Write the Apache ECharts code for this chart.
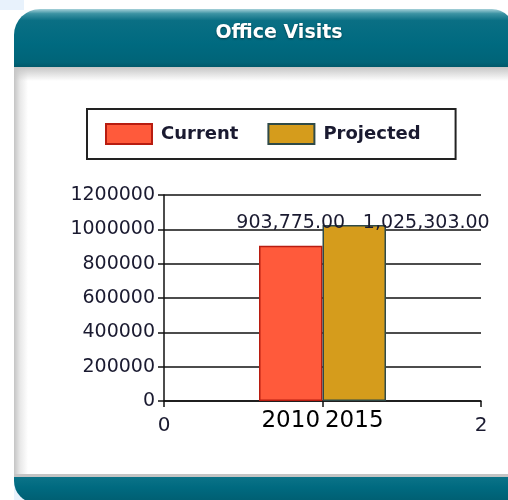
<!DOCTYPE html>
<html>
<head>
<meta charset="utf-8">
<script src="https://cdn.jsdelivr.net/npm/echarts@6/dist/echarts.min.js"></script>
<style>
  html, body { margin: 0; padding: 0; background: #fff; }
  .page { position: relative; width: 508px; height: 500px; overflow: hidden; }
  .corner-tl { position: absolute; left: 0; top: 0; width: 24px; height: 10px; background: #e8f2fc; }
  .corner-bl { position: absolute; left: 14px; top: 478px; width: 60px; height: 22px; background: #e8f2fc; }
  .card { position: absolute; left: 14px; top: 9px; width: 500px; height: 491px; }
  .card-head {
    position: absolute; left: 0; top: 0; width: 100%; height: 58px;
    border-radius: 26px 22px 0 0;
    background: linear-gradient(to bottom, #a6d1d9 0%, #3d93a3 8%, #0a6f84 20%, #006a80 60%, #006478 92%, #00586a 100%);
  }
  .card-body {
    position: absolute; left: 0; top: 58px; width: 100%; height: 407px;
    background: linear-gradient(to right, #c4c4c4 0px, #e8e8e8 6px, #fff 14px);
  }
  .card-body::before {
    content: ''; position: absolute; left: 0; top: 0; right: 0; height: 14px;
    background: linear-gradient(to bottom, #c6c6c6, rgba(255,255,255,0));
  }
  .card-foot {
    position: absolute; left: 0; top: 465px; width: 100%; height: 26px;
    border-top: 3px solid #c4c4c4;
    border-radius: 0 0 0 22px;
    background: linear-gradient(to bottom, #0b7388 0%, #006a80 40%, #005d70 100%);
  }
  #chart { position: absolute; left: 0; top: 0; width: 508px; height: 500px; }
</style>
</head>
<body>
<div class="page">
  <div class="corner-tl"></div>
  <div class="corner-bl"></div>
  <div class="card">
    <div class="card-head"></div>
    <div class="card-body"></div>
    <div class="card-foot"></div>
  </div>
  <div id="chart"></div>
</div>
<script>
// data
var categories = ['2010', '2015']
var seriesNames = ['Current', 'Projected']
var currentValues = [903775, '-']
var projectedValues = ['-', 1025303]
var xTickLabels = ['0', '', '2']

var font = 'DejaVu Sans'

function money (v) {
  return Number(v).toLocaleString('en-US', { minimumFractionDigits: 2, maximumFractionDigits: 2 })
}

var myChart = echarts.init(document.getElementById('chart'))
var option = {
  animation: false,
  title: {
    text: 'Office Visits',
    left: 274,
    top: 19,
    textAlign: 'center',
    textStyle: {
      color: '#ffffff',
      fontFamily: font,
      fontWeight: 'bold',
      fontSize: 19,
      textShadowColor: 'rgba(0,0,0,0.45)',
      textShadowBlur: 2,
      textShadowOffsetY: 1
    }
  },
  legend: {
    data: seriesNames,
    left: 87,
    top: 109,
    orient: 'horizontal',
    itemWidth: 46,
    itemHeight: 20,
    itemGap: 29,
    padding: [14, 35, 14, 18],
    borderColor: '#222',
    borderWidth: 2,
    icon: 'rect',
    textStyle: {
      color: '#1a1a30',
      fontFamily: font,
      fontWeight: 'bold',
      fontSize: 18,
      padding: [0, 0, 0, 4]
    }
  },
  grid: [
    { left: 164, right: 27, top: 195, bottom: 99 },
    { left: 259, width: 127, top: 195, bottom: 99 }
  ],
  xAxis: [
    {
      type: 'value',
      gridIndex: 0,
      min: 0,
      max: 2,
      interval: 1,
      axisLine: { show: true, lineStyle: { color: '#111', width: 1.5 } },
      axisTick: { show: true, length: 6, lineStyle: { color: '#111', width: 1.5 } },
      axisLabel: {
        margin: 15,
        color: '#1a1a30',
        fontFamily: font,
        fontSize: 20,
        formatter: function (v, i) { return xTickLabels[i] }
      },
      splitLine: { show: false }
    },
    {
      type: 'category',
      gridIndex: 1,
      data: categories,
      axisLine: { show: false },
      axisTick: { show: false },
      axisLabel: {
        interval: 0,
        margin: 9,
        color: '#000',
        fontFamily: font,
        fontSize: 23
      }
    }
  ],
  yAxis: [
    {
      type: 'value',
      gridIndex: 0,
      min: 0,
      max: 1200000,
      interval: 200000,
      axisLine: { show: true, lineStyle: { color: '#111', width: 1.5 } },
      axisTick: { show: true, length: 6, lineStyle: { color: '#111', width: 1.5 } },
      axisLabel: {
        margin: 9,
        color: '#1a1a30',
        fontFamily: font,
        fontSize: 19,
        formatter: function (v) { return String(v) }
      },
      splitLine: { show: true, lineStyle: { color: '#111', width: 1.5 } }
    },
    {
      type: 'value',
      gridIndex: 1,
      min: 0,
      max: 1200000,
      show: false
    }
  ],
  series: [
    {
      name: 'Current',
      type: 'bar',
      xAxisIndex: 1,
      yAxisIndex: 1,
      barWidth: '100%',
      barGap: '-100%',
      data: currentValues,
      itemStyle: { color: '#ff5a3b', borderColor: '#b81c10', borderWidth: 1.5 },
      label: {
        show: true,
        position: 'top',
        distance: 13,
        color: '#1a1a30',
        fontFamily: font,
        fontSize: 19,
        formatter: function (p) { return money(p.value) }
      }
    },
    {
      name: 'Projected',
      type: 'bar',
      xAxisIndex: 1,
      yAxisIndex: 1,
      barWidth: '100%',
      barGap: '-100%',
      data: projectedValues,
      itemStyle: { color: '#d59c1c', borderColor: '#2f4a48', borderWidth: 1.5 },
      label: {
        show: true,
        position: 'top',
        distance: 13,
        offset: [72, 21],
        color: '#1a1a30',
        fontFamily: font,
        fontSize: 19,
        formatter: function (p) { return money(p.value) }
      }
    }
  ]
}
option && myChart.setOption(option)
</script>
</body>
</html>
